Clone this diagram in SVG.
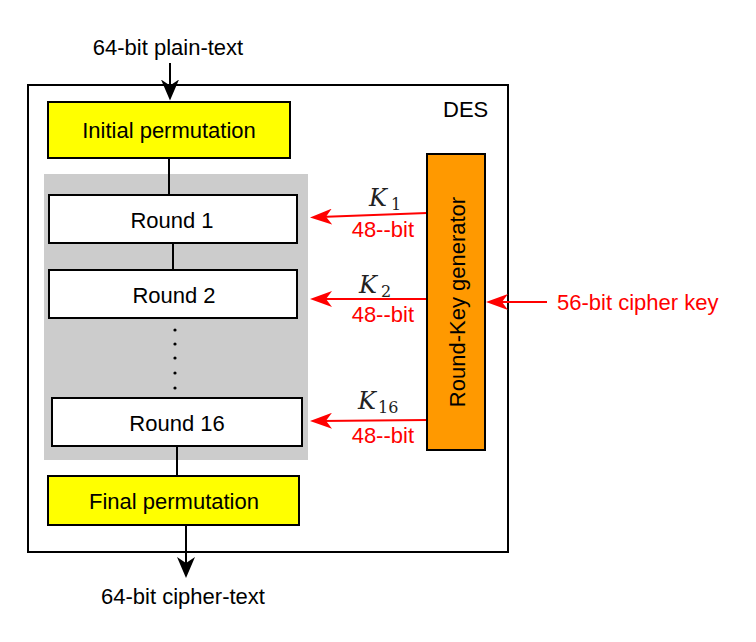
<svg xmlns="http://www.w3.org/2000/svg" width="756" height="642" viewBox="0 0 756 642">
<style>
text{font-family:"Liberation Sans",Arial,sans-serif;font-size:22px;fill:#000}
.red{fill:#ff0000}
.mid{text-anchor:middle}
.end{text-anchor:end}
.box{stroke:#000;stroke-width:2}
.k{font-family:"DejaVu Serif","Liberation Serif",serif;font-style:italic;font-size:24px;fill:#222}
.ks{font-family:"DejaVu Serif","Liberation Serif",serif;font-size:16px;fill:#222}
.bl{stroke:#000;stroke-width:2;fill:none}
.rl{stroke:#ff0000;stroke-width:2;fill:none}
</style>
<defs>
<marker id="ab" markerUnits="userSpaceOnUse" viewBox="0 0 21 18" refX="11" refY="9" markerWidth="21" markerHeight="18" orient="auto">
<path d="M0,0 L21,9 L0,18 L6,9 Z" fill="#000"/>
</marker>
<marker id="ar" markerUnits="userSpaceOnUse" viewBox="0 0 22 16" refX="12" refY="8" markerWidth="22" markerHeight="16" orient="auto">
<path d="M0,0 L22,8 L0,16 L6,8 Z" fill="#ff0000"/>
</marker>
</defs>
<rect width="756" height="642" fill="#fff"/>
<g id="des">
<rect x="28" y="85" width="480" height="467" fill="#fff" class="box"/>
<text x="443" y="117">DES</text>
</g>
<g id="rounds-bg">
<rect x="44" y="174" width="264" height="286" fill="#cccccc"/>
</g>
<g id="connectors">
<line x1="170" y1="63" x2="170" y2="90.5" class="bl" marker-end="url(#ab)"/>
<line x1="169" y1="158" x2="169" y2="195" class="bl"/>
<line x1="173" y1="243" x2="173" y2="270" class="bl"/>
<line x1="177" y1="446" x2="177" y2="476" class="bl"/>
<line x1="186" y1="525" x2="186" y2="568" class="bl" marker-end="url(#ab)"/>
<line x1="427" y1="213" x2="320" y2="217.1" class="rl" marker-end="url(#ar)"/>
<line x1="427" y1="299" x2="320" y2="299" class="rl" marker-end="url(#ar)"/>
<line x1="427" y1="420" x2="320" y2="420.9" class="rl" marker-end="url(#ar)"/>
<line x1="547" y1="302" x2="496" y2="302" class="rl" marker-end="url(#ar)"/>
</g>
<g id="dots" fill="#000">
<circle cx="175" cy="330" r="1.6"/>
<circle cx="175" cy="344" r="1.6"/>
<circle cx="175" cy="358" r="1.6"/>
<circle cx="175" cy="373" r="1.6"/>
<circle cx="175" cy="388" r="1.6"/>
</g>
<g id="initial">
<rect x="48" y="102" width="242" height="56" fill="#ffff00" class="box"/>
<text x="169" y="138" class="mid">Initial permutation</text>
</g>
<g id="round1">
<rect x="49" y="195" width="248" height="48" fill="#fff" class="box"/>
<text x="172" y="228" class="mid">Round 1</text>
</g>
<g id="round2">
<rect x="49" y="270" width="248" height="48" fill="#fff" class="box"/>
<text x="174" y="303" class="mid">Round 2</text>
</g>
<g id="round16">
<rect x="52" y="398" width="250" height="48" fill="#fff" class="box"/>
<text x="177" y="431" class="mid">Round 16</text>
</g>
<g id="final">
<rect x="48" y="476" width="251" height="49" fill="#ffff00" class="box"/>
<text x="174" y="509" class="mid">Final permutation</text>
</g>
<g id="keygen">
<rect x="427" y="154" width="58" height="296" fill="#ff9900" class="box"/>
<text transform="translate(465,302) rotate(-90)" class="mid">Round-Key generator</text>
</g>
<g id="labels">
<text x="168" y="55" class="mid">64-bit plain-text</text>
<text x="183" y="604" class="mid">64-bit cipher-text</text>
<text x="557" y="310" class="red">56-bit cipher key</text>
<text x="369" y="206" class="k">K</text><text x="391" y="210" class="ks">1</text>
<text x="414" y="237" class="red end">48--bit</text>
<text x="359" y="293" class="k">K</text><text x="381" y="297" class="ks">2</text>
<text x="414" y="322" class="red end">48--bit</text>
<text x="358" y="409" class="k">K</text><text x="378" y="413" class="ks">16</text>
<text x="414" y="443" class="red end">48--bit</text>
</g>
</svg>
